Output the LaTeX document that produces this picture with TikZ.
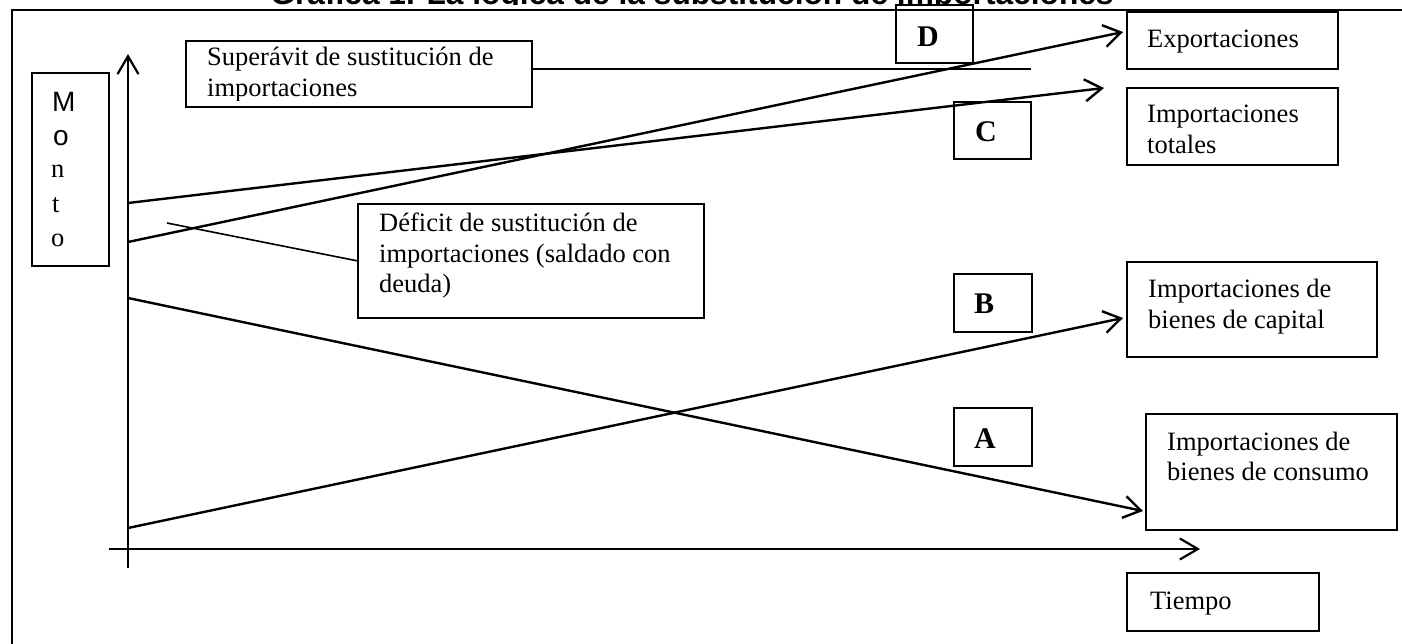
\documentclass[tikz,border=0pt]{standalone}
\usepackage{fontspec}
\setmainfont{Liberation Serif}
\newfontfamily\arialf{Liberation Sans}
\usetikzlibrary{arrows.meta}
\begin{document}
\begin{tikzpicture}[x=1pt,y=-1pt,
  box/.style={draw, line width=1.8pt, inner sep=0pt, outer sep=0pt, anchor=north west},
  txt/.style={anchor=base west, inner sep=0pt, font=\fontsize{26.5}{30}\selectfont},
  sanstxt/.style={anchor=base west, inner sep=0pt, font=\arialf\fontsize{28}{30}\selectfont},
  ltr/.style={anchor=base west, inner sep=0pt, font=\fontsize{30}{34}\selectfont\bfseries},
  curve/.style={line width=2.4pt, -{Straight Barb[length=17pt,width=22pt]}},
  axisline/.style={line width=2.2pt, -{Straight Barb[length=18pt,width=21pt]}},
  thin/.style={line width=1.6pt},
  ]
\useasboundingbox (0,0) rectangle (1402,644);

% frame
\coordinate (fr1) at (1402,10);
\coordinate (fr2) at (12,10);
\coordinate (fr3) at (12,650);
\draw[line width=2pt] (fr1) -- (fr2) -- (fr3);

% title (only its lower part shows)
\begin{scope}
\clip (0,-40) rectangle (1402,4.5);
\node[anchor=base, inner sep=0pt, font=\arialf\bfseries\fontsize{31.7}{36}\selectfont] (title) at (692,4.5) {Gráfica 1. La lógica de la substitución de importaciones};
\end{scope}

% boxes
\node[box, minimum width=77pt, minimum height=193pt] (monto) at (32,73) {};
\node[box, minimum width=346pt, minimum height=66pt] (sup) at (186,41) {};
\node[box, minimum width=346pt, minimum height=114pt] (def) at (358,204) {};
\node[box, minimum width=77pt, minimum height=58pt] (dbox) at (896,5) {};
\node[box, minimum width=77pt, minimum height=57pt] (cbox) at (954,102) {};
\node[box, minimum width=78pt, minimum height=58pt] (bbox) at (954,274) {};
\node[box, minimum width=78pt, minimum height=58pt] (abox) at (954,408) {};
\node[box, minimum width=211pt, minimum height=57pt] (exp) at (1127,12) {};
\node[box, minimum width=211pt, minimum height=77pt] (imt) at (1127,88) {};
\node[box, minimum width=250pt, minimum height=95pt] (ibc) at (1127,262) {};
\node[box, minimum width=251pt, minimum height=116pt] (ibs) at (1146,414) {};
\node[box, minimum width=192pt, minimum height=58pt] (tiem) at (1127,573) {};

% texts
\node[sanstxt] (m1) at (52,112) {M};
\node[sanstxt] (m2) at (53,146) {o};
\node[txt] (m3) at (51,178) {n};
\node[txt] (m4) at (52,213) {t};
\node[txt] (m5) at (51,247) {o};

\begin{scope}
\clip (186,30) rectangle (532,101);
\node[txt] (s1) at (207,66) {Superávit de sustitución de};
\node[txt] (s2) at (207,97) {importaciones};
\end{scope}

\node[txt] (d1) at (379,232) {Déficit de sustitución de};
\node[txt] (d2) at (379,262) {importaciones (saldado con};
\node[txt] (d3) at (379,292) {deuda)};

\node[ltr] (lD) at (917,47) {D};
\node[ltr] (lC) at (975,142) {C};
\node[ltr] (lB) at (974,313) {B};
\node[ltr] (lA) at (974,448) {A};

\node[txt] (e1) at (1147,48) {Exportaciones};
\node[txt] (t1) at (1147,123) {Importaciones};
\node[txt] (t2) at (1147,154) {totales};
\node[txt] (c1) at (1148,298) {Importaciones de};
\node[txt] (c2) at (1148,328) {bienes de capital};
\node[txt] (k1) at (1167,450) {Importaciones de};
\node[txt] (k2) at (1167,480) {bienes de consumo};
\node[txt] (ti) at (1150,609) {Tiempo};

% axes
\coordinate (yb) at (128,568);
\coordinate (yt) at (128,54);
\coordinate (xl) at (109,549);
\coordinate (xr) at (1200,549);
\draw[axisline] (yb) -- (yt);
\draw[axisline] (xl) -- (xr);

% curves
\coordinate (a0) at (128,298);
\coordinate (a1) at (1143,511);
\coordinate (b0) at (128,528);
\coordinate (b1) at (1123,318);
\coordinate (c0) at (128,203);
\coordinate (c1e) at (1104,88);
\coordinate (d0) at (128,242);
\coordinate (d1e) at (1123,32);
\draw[curve] (a0) -- (a1);
\draw[curve] (b0) -- (b1);
\draw[curve] (c0) -- (c1e);
\draw[curve] (d0) -- (d1e);

% pointers
\coordinate (pend) at (167,223);
\draw[thin] (def.west) -- (pend);
\coordinate (supend) at (1031,69);
\draw[thin] (sup.east |- supend) -- (supend);
\end{tikzpicture}
\end{document}
